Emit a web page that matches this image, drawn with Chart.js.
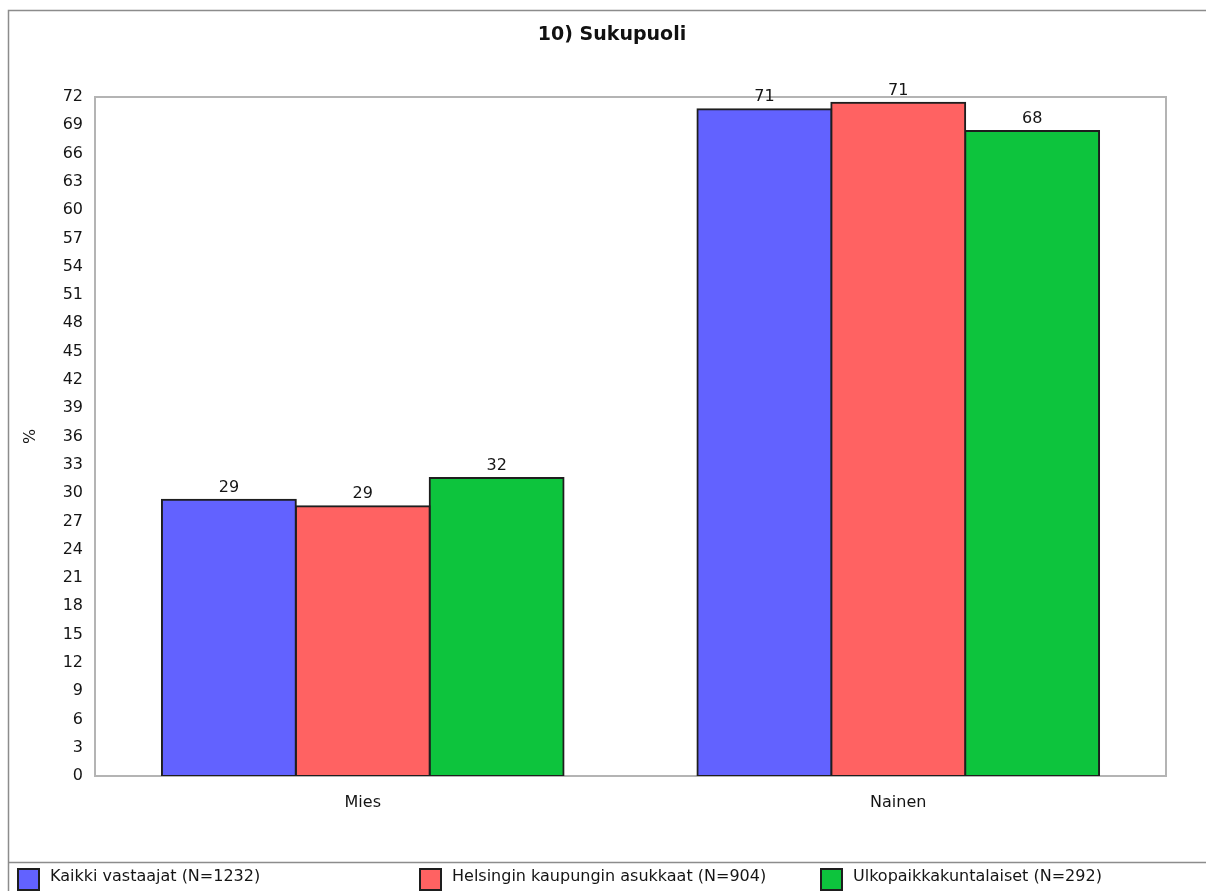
<!DOCTYPE html>
<html>
<head>
<meta charset="utf-8">
<script src="https://cdn.jsdelivr.net/npm/chart.js@4.4.1/dist/chart.umd.min.js"></script>
<style>
  html, body { margin: 0; padding: 0; background: #fff; }
  canvas { display: block; }
</style>
</head>
<body>
<canvas id="c" width="1206" height="891"></canvas>
<script>
// Survey question 10: gender distribution by respondent group (%)
const chartTitle = '10) Sukupuoli';
const categories = ['Mies', 'Nainen'];
const seriesNames = [
  'Kaikki vastaajat (N=1232)',
  'Helsingin kaupungin asukkaat (N=904)',
  'Ulkopaikkakuntalaiset (N=292)'
];
const kaikkiVastaajat = [29.3, 70.7];
const helsinginAsukkaat = [28.6, 71.4];
const ulkopaikkakuntalaiset = [31.6, 68.4];
const yMin = 0;
const yMax = 72;
const yStep = 3;
const yTitle = '%';

const FONT = '"DejaVu Sans", "Liberation Sans", Arial, sans-serif';
const TEXT = '#151515';
const seriesColors = ['#6262ff', '#ff6262', '#0dc43d'];
const legendX = [17, 419, 820];

const datasets = [kaikkiVastaajat, helsinginAsukkaat, ulkopaikkakuntalaiset].map((vals, i) => ({
  label: seriesNames[i],
  data: vals,
  backgroundColor: seriesColors[i],
  borderColor: '#1e1e1e',
  borderWidth: 2,
  borderSkipped: false,
  inflateAmount: 1,
  categoryPercentage: 0.75,
  barPercentage: 1.0
}));

// Outer frame and legend divider
const framePlugin = {
  id: 'frame',
  beforeDraw(chart) {
    const ctx = chart.ctx;
    ctx.save();
    ctx.fillStyle = '#fff';
    ctx.fillRect(0, 0, chart.width, chart.height);
    ctx.strokeStyle = '#8c8c8c';
    ctx.lineWidth = 1.5;
    ctx.beginPath();
    ctx.moveTo(8.5, chart.height);
    ctx.lineTo(8.5, 10.5);
    ctx.lineTo(chart.width, 10.5);
    ctx.moveTo(8.5, 862.5);
    ctx.lineTo(chart.width, 862.5);
    ctx.stroke();
    ctx.restore();
  }
};

// Grey box round the plotting area
const plotBoxPlugin = {
  id: 'plotBox',
  beforeDatasetsDraw(chart) {
    const { ctx, chartArea: a } = chart;
    ctx.save();
    ctx.strokeStyle = '#b4b4b4';
    ctx.lineWidth = 2;
    ctx.strokeRect(a.left, a.top, a.right - a.left, a.bottom - a.top);
    ctx.restore();
  }
};

// Rounded value above each bar
const valueLabelPlugin = {
  id: 'valueLabels',
  afterDatasetsDraw(chart) {
    const ctx = chart.ctx;
    ctx.save();
    ctx.font = '16px ' + FONT;
    ctx.fillStyle = TEXT;
    ctx.textAlign = 'center';
    ctx.textBaseline = 'bottom';
    chart.data.datasets.forEach((ds, di) => {
      chart.getDatasetMeta(di).data.forEach((bar, i) => {
        ctx.fillText(String(Math.round(ds.data[i])), bar.x, bar.y - 4);
      });
    });
    ctx.restore();
  }
};

// Title and a legend spread along the bottom strip
const titleLegendPlugin = {
  id: 'titleLegend',
  afterDraw(chart) {
    const ctx = chart.ctx;
    ctx.save();
    ctx.font = 'bold 19px ' + FONT;
    ctx.fillStyle = '#111';
    ctx.textAlign = 'center';
    ctx.textBaseline = 'middle';
    ctx.fillText(chartTitle, 612, 35);

    ctx.font = '16px ' + FONT;
    ctx.textAlign = 'left';
    chart.data.datasets.forEach((ds, i) => {
      const x = legendX[i];
      ctx.fillStyle = ds.backgroundColor;
      ctx.fillRect(x, 868, 22, 22);
      ctx.strokeStyle = '#1e1e1e';
      ctx.lineWidth = 2;
      ctx.strokeRect(x + 1, 869, 21, 21);
      ctx.fillStyle = TEXT;
      ctx.fillText(ds.label, x + 33, 877);
    });
    ctx.restore();
  }
};

new Chart(document.getElementById('c'), {
  type: 'bar',
  data: { labels: categories, datasets },
  options: {
    responsive: false,
    animation: false,
    layout: { padding: { left: 8, top: 97, right: 40, bottom: 29 } },
    plugins: {
      legend: { display: false },
      title: { display: false },
      tooltip: { enabled: false }
    },
    scales: {
      x: {
        grid: { display: false, drawTicks: false },
        border: { display: false },
        ticks: { color: TEXT, font: { family: FONT, size: 16 }, padding: 17 },
        afterFit(scale) { scale.height = 86; }
      },
      y: {
        min: yMin,
        max: yMax,
        grid: { display: false, drawTicks: false },
        border: { display: false },
        ticks: {
          stepSize: yStep,
          autoSkip: false,
          color: TEXT,
          font: { family: FONT, size: 16 },
          padding: 12
        },
        title: {
          display: true,
          text: yTitle,
          color: TEXT,
          font: { family: FONT, size: 16 },
          padding: { top: 13, bottom: 0 }
        },
        afterFit(scale) { scale.width = 87; }
      }
    }
  },
  plugins: [framePlugin, plotBoxPlugin, valueLabelPlugin, titleLegendPlugin]
});
</script>
</body>
</html>
